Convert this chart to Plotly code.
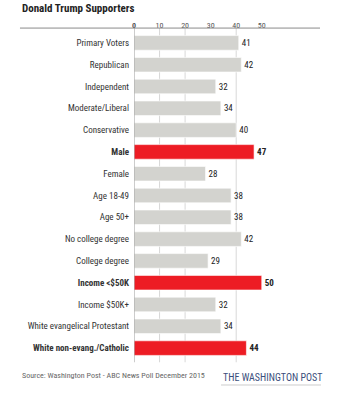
import plotly.graph_objects as go

categories = ["Primary Voters", "Republican", "Independent", "Moderate/Liberal", "Conservative",
              "Male", "Female", "Age 18-49", "Age 50+", "No college degree", "College degree",
              "Income <$50K", "Income $50K+", "White evangelical Protestant", "White non-evang./Catholic"]
values = [41, 42, 32, 34, 40, 47, 28, 38, 38, 42, 29, 50, 32, 34, 44]
highlight = [False, False, False, False, False, True, False, False, False, False, False, True, False, False, True]
tick_vals = [0, 10, 20, 30, 40, 50]
tick_text = ["<b>0</b>", "10", "20", "30", "40", "50"]
grid_vals = [10, 20, 40]

FONT = "Liberation Sans Narrow, Arial Narrow, Roboto Condensed, Liberation Sans, sans-serif"
GREY = "#d3d3cf"
RED = "#ed1c24"

colors = [RED if h else GREY for h in highlight]
texts = [f"<b>{v}</b>" if h else str(v) for v, h in zip(values, highlight)]
ticktext = [f"<b>{c}</b>" if h else c for c, h in zip(categories, highlight)]
ticktext = [t.replace("<$", "&lt;$") for t in ticktext]

fig = go.Figure()
fig.add_trace(go.Bar(
    x=values, y=categories, orientation="h",
    marker=dict(color=colors, line=dict(color="rgba(255,255,255,0.6)", width=1)),
    text=texts, textposition="outside", cliponaxis=False,
    textfont=dict(family=FONT, size=9, color="#222"),
    hoverinfo="skip",
))

shapes = []
for g in grid_vals:
    shapes.append(dict(type="line", xref="x", yref="paper", x0=g, x1=g, y0=-0.01, y1=1.012,
                       line=dict(color="#d8d8d8", width=1), layer="below"))
shapes.append(dict(type="line", xref="x", yref="paper", x0=0, x1=0, y0=-0.01, y1=1.012,
                   line=dict(color="#9a9a9a", width=1), layer="above"))
shapes.append(dict(type="line", xref="paper", yref="paper", x0=-0.613, x1=1.0, y0=1.012, y1=1.012,
                   line=dict(color="#8a8a8a", width=1)))
shapes.append(dict(type="line", xref="paper", yref="paper", x0=0.468, x1=1.005, y0=-0.0795, y1=-0.0795,
                   line=dict(color="#cccccc", width=1)))

fig.update_layout(
    width=344, height=400,
    margin=dict(l=134, r=24, t=32, b=41),
    paper_bgcolor="white", plot_bgcolor="white",
    showlegend=False,
    bargap=0.33,
    xaxis=dict(range=[0, 72.8], side="top", tickvals=tick_vals, ticktext=tick_text,
               showgrid=False, zeroline=False, showline=False, ticks="",
               tickfont=dict(family=FONT, size=8, color="#555"), ticklabelstandoff=1),
    yaxis=dict(categoryorder="array", categoryarray=categories, autorange="reversed",
               tickvals=categories, ticktext=ticktext, showgrid=False, zeroline=False, showline=False,
               ticks="", tickfont=dict(family=FONT, size=9, color="#333"), ticklabelstandoff=4),
    shapes=shapes,
    annotations=[
        dict(text="<b>Donald Trump Supporters</b>", xref="paper", yref="paper",
             x=-0.613, y=1.073, xanchor="left", yanchor="middle", showarrow=False,
             font=dict(family=FONT, size=11, color="#222")),
        dict(text="Source: Washington Post - ABC News Poll December 2015", xref="paper", yref="paper",
             x=-0.613, y=-0.049, xanchor="left", yanchor="middle", showarrow=False,
             font=dict(family=FONT, size=8, color="#666")),
        dict(text="THE WASHINGTON POST", xref="paper", yref="paper",
             x=0.468, y=-0.058, xanchor="left", yanchor="middle", showarrow=False,
             font=dict(family=FONT, size=10, color="#3c4f7c")),
    ],
)

fig.write_html("out.html")
